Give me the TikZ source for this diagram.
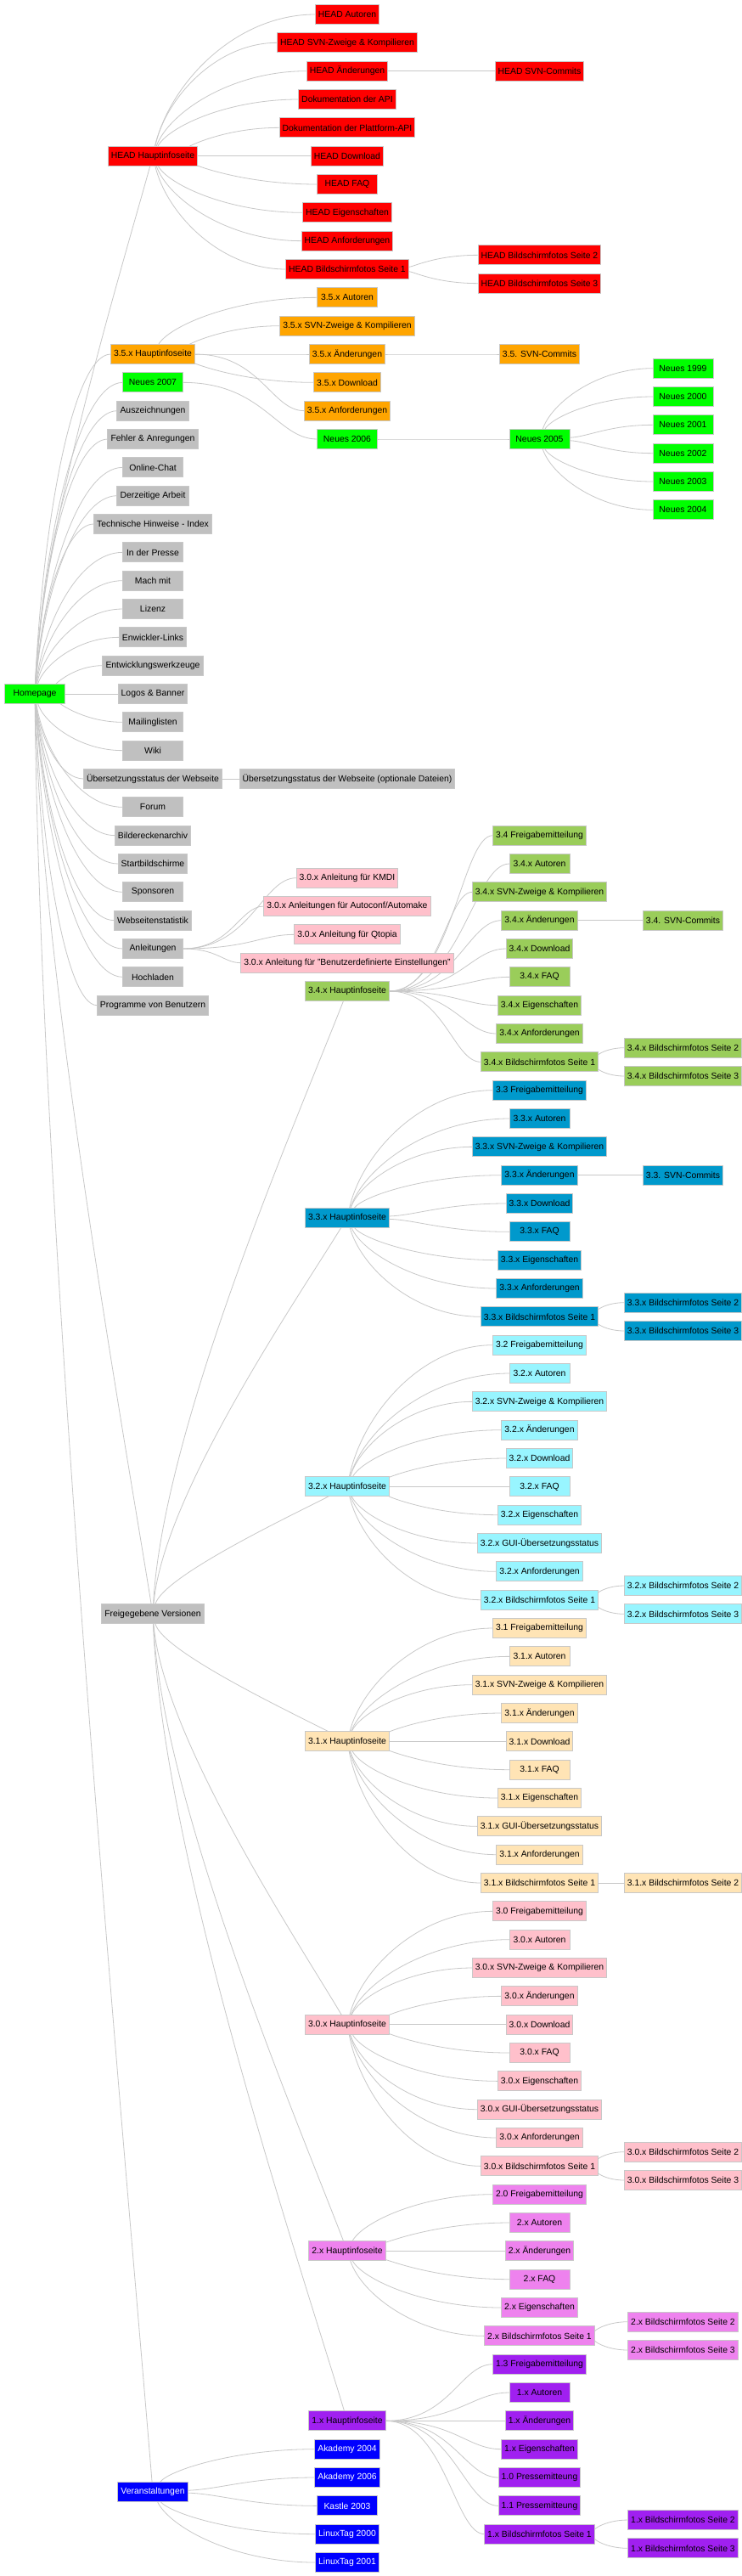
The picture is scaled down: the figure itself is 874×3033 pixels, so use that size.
\documentclass[tikz,border=0pt]{standalone}
\usepackage{fontspec}
\setmainfont{Liberation Sans}
\usetikzlibrary{calc,backgrounds}
\definecolor{colRed}{HTML}{FF0000}
\definecolor{colOrange}{HTML}{FFA500}
\definecolor{colLime}{HTML}{00FF00}
\definecolor{colGray}{HTML}{C0C0C0}
\definecolor{col34}{HTML}{9ACD5A}
\definecolor{col33}{HTML}{0099CC}
\definecolor{col32}{HTML}{98F5FF}
\definecolor{col31}{HTML}{FFE4B5}
\definecolor{col30}{HTML}{FFC0CB}
\definecolor{col2}{HTML}{EE82EE}
\definecolor{col1}{HTML}{A020F0}
\definecolor{colBlue}{HTML}{0000FF}
\definecolor{bordc}{HTML}{C8C8C8}
\definecolor{edgec}{HTML}{C8C8C8}
\newcommand\fsz{\fontsize{10.4}{12}\selectfont}
\tikzset{
 box/.style={draw=bordc,line width=1pt,minimum width=71pt,minimum height=23pt,inner xsep=3.6pt,inner ysep=0pt,outer sep=0pt,font=\fsz,text=black},
 lnkstyle/.style={draw=edgec,line width=0.8pt}
}
\newcommand\mkn[5]{\node[box,fill=#4] (#1) at (#2,{17+33.3333*(#3)}) {#5};}
\newcommand\lnk[2]{\draw[lnkstyle] let \p1=(#1.center),\p2=(#2.west),\p3=(#1.east),
 \n1={min(1,abs((\y2)-(\y1))/50)},
 \n2={(1-\n1)*((\x3)-(\x1)+0.45*((\x2)-(\x3)))+\n1*0.1*((\x2)-(\x1))},
 \n3={0.5*\n1*((\y2)-(\y1))},
 \n4={(1-\n1)*0.45*((\x2)-(\x3))+\n1*0.5*((\x2)-(\x1))}
 in (#1) .. controls ({\x1+(\n2)},{\y1+(\n3)}) and ({\x2-(\n4)},\y2) .. (#2);}
\newcommand\lnkS[2]{\draw[lnkstyle] let \p1=(#1.east),\p2=(#2.west) in (\p1) .. controls ({\x1+0.6*((\x2)-(\x1))},\y1) and ({\x2-0.3*((\x2)-(\x1))},\y2) .. (\p2);}
\newcommand\lnkL[2]{\draw[lnkstyle] let \p1=(#1.center),\p2=(#2.center) in (#1) .. controls ({\x1+0.05*((\x2)-(\x1))},{\y1+0.3*((\y2)-(\y1))}) and ({\x2-0.25*((\x2)-(\x1))},{\y2-0.2*((\y2)-(\y1))}) .. (#2);}
\begin{document}
\begin{tikzpicture}[x=1pt,y=-1pt]
\useasboundingbox (0,0) rectangle (874,3033);
% ---- column A
\mkn{home}{41}{24}{colLime}{Homepage}
% ---- column B
\mkn{headhp}{180}{5}{colRed}{HEAD Hauptinfoseite}
\mkn{hp35}{180}{12}{colOrange}{3.5.x Hauptinfoseite}
\mkn{n2007}{180}{13}{colLime}{Neues 2007}
\mkn{ausz}{180}{14}{colGray}{Auszeichnungen}
\mkn{fehler}{180}{15}{colGray}{Fehler \& Anregungen}
\mkn{chat}{180}{16}{colGray}{Online-Chat}
\mkn{arbeit}{180}{17}{colGray}{Derzeitige Arbeit}
\mkn{tech}{180}{18}{colGray}{Technische Hinweise - Index}
\mkn{presse}{180}{19}{colGray}{In der Presse}
\mkn{mach}{180}{20}{colGray}{Mach mit}
\mkn{lizenz}{180}{21}{colGray}{Lizenz}
\mkn{elinks}{180}{22}{colGray}{Enwickler-Links}
\mkn{ewerk}{180}{23}{colGray}{Entwicklungswerkzeuge}
\mkn{logos}{180}{24}{colGray}{Logos \& Banner}
\mkn{mail}{180}{25}{colGray}{Mailinglisten}
\mkn{wiki}{180}{26}{colGray}{Wiki}
\mkn{uebers}{180}{27}{colGray}{Übersetzungsstatus der Webseite}
\mkn{forum}{180}{28}{colGray}{Forum}
\mkn{bilder}{180}{29}{colGray}{Bildereckenarchiv}
\mkn{start}{180}{30}{colGray}{Startbildschirme}
\mkn{spons}{180}{31}{colGray}{Sponsoren}
\mkn{stat}{180}{32}{colGray}{Webseitenstatistik}
\mkn{anl}{180}{33}{colGray}{Anleitungen}
\mkn{hoch}{180}{34}{colGray}{Hochladen}
\mkn{prog}{180}{35}{colGray}{Programme von Benutzern}
\mkn{frei}{180}{56.5}{colGray}{Freigegebene Versionen}
\mkn{veran}{180}{87.5}{colBlue,text=white}{Veranstaltungen}
% ---- column C
\mkn{hA}{409}{0}{colRed}{HEAD Autoren}
\mkn{hSVN}{409}{1}{colRed}{HEAD SVN-Zweige \& Kompilieren}
\mkn{hAend}{409}{2}{colRed}{HEAD Änderungen}
\mkn{hAPI}{409}{3}{colRed}{Dokumentation der API}
\mkn{hPAPI}{409}{4}{colRed}{Dokumentation der Plattform-API}
\mkn{hDL}{409}{5}{colRed}{HEAD Download}
\mkn{hFAQ}{409}{6}{colRed}{HEAD FAQ}
\mkn{hEig}{409}{7}{colRed}{HEAD Eigenschaften}
\mkn{hAnf}{409}{8}{colRed}{HEAD Anforderungen}
\mkn{hB1}{409}{9}{colRed}{HEAD Bildschirmfotos Seite 1}
\mkn{a35}{409}{10}{colOrange}{3.5.x Autoren}
\mkn{s35}{409}{11}{colOrange}{3.5.x SVN-Zweige \& Kompilieren}
\mkn{ae35}{409}{12}{colOrange}{3.5.x Änderungen}
\mkn{dl35}{409}{13}{colOrange}{3.5.x Download}
\mkn{anf35}{409}{14}{colOrange}{3.5.x Anforderungen}
\mkn{n2006}{409}{15}{colLime}{Neues 2006}
\mkn{uebopt}{409}{27}{colGray}{Übersetzungsstatus der Webseite (optionale Dateien)}
\mkn{kmdi}{409}{30.5}{col30}{3.0.x Anleitung für KMDI}
\mkn{autoconf}{409}{31.5}{col30}{3.0.x Anleitungen für Autoconf/Automake}
\mkn{qtopia}{409}{32.5}{col30}{3.0.x Anleitung für Qtopia}
\mkn{benutzer}{409}{33.5}{col30}{3.0.x Anleitung für "Benutzerdefinierte Einstellungen"}
\mkn{hp34}{409}{34.5}{col34}{3.4.x Hauptinfoseite}
\mkn{hp33}{409}{42.5}{col33}{3.3.x Hauptinfoseite}
\mkn{hp32}{409}{52}{col32}{3.2.x Hauptinfoseite}
\mkn{hp31}{409}{61}{col31}{3.1.x Hauptinfoseite}
\mkn{hp30}{409}{71}{col30}{3.0.x Hauptinfoseite}
\mkn{hp2}{409}{79}{col2}{2.x Hauptinfoseite}
\mkn{hp1}{409}{85}{col1}{1.x Hauptinfoseite}
\mkn{ak04}{409}{86}{colBlue,text=white}{Akademy 2004}
\mkn{ak06}{409}{87}{colBlue,text=white}{Akademy 2006}
\mkn{kastle}{409}{88}{colBlue,text=white}{Kastle 2003}
\mkn{lt00}{409}{89}{colBlue,text=white}{LinuxTag 2000}
\mkn{lt01}{409}{90}{colBlue,text=white}{LinuxTag 2001}
% ---- column D
\mkn{hSVNc}{635.5}{2}{colRed}{HEAD SVN-Commits}
\mkn{hB2}{635.5}{8.5}{colRed}{HEAD Bildschirmfotos Seite 2}
\mkn{hB3}{635.5}{9.5}{colRed}{HEAD Bildschirmfotos Seite 3}
\mkn{c35}{635.5}{12}{colOrange}{3.5. SVN-Commits}
\mkn{n2005}{635.5}{15}{colLime}{Neues 2005}
\mkn{f34}{635.5}{29}{col34}{3.4 Freigabemitteilung}
\mkn{a34}{635.5}{30}{col34}{3.4.x Autoren}
\mkn{s34}{635.5}{31}{col34}{3.4.x SVN-Zweige \& Kompilieren}
\mkn{ae34}{635.5}{32}{col34}{3.4.x Änderungen}
\mkn{dl34}{635.5}{33}{col34}{3.4.x Download}
\mkn{faq34}{635.5}{34}{col34}{3.4.x FAQ}
\mkn{eig34}{635.5}{35}{col34}{3.4.x Eigenschaften}
\mkn{anf34}{635.5}{36}{col34}{3.4.x Anforderungen}
\mkn{b134}{635.5}{37}{col34}{3.4.x Bildschirmfotos Seite 1}
\mkn{f33}{635.5}{38}{col33}{3.3 Freigabemitteilung}
\mkn{a33}{635.5}{39}{col33}{3.3.x Autoren}
\mkn{s33}{635.5}{40}{col33}{3.3.x SVN-Zweige \& Kompilieren}
\mkn{ae33}{635.5}{41}{col33}{3.3.x Änderungen}
\mkn{dl33}{635.5}{42}{col33}{3.3.x Download}
\mkn{faq33}{635.5}{43}{col33}{3.3.x FAQ}
\mkn{eig33}{635.5}{44}{col33}{3.3.x Eigenschaften}
\mkn{anf33}{635.5}{45}{col33}{3.3.x Anforderungen}
\mkn{b133}{635.5}{46}{col33}{3.3.x Bildschirmfotos Seite 1}
\mkn{f32}{635.5}{47}{col32}{3.2 Freigabemitteilung}
\mkn{a32}{635.5}{48}{col32}{3.2.x Autoren}
\mkn{s32}{635.5}{49}{col32}{3.2.x SVN-Zweige \& Kompilieren}
\mkn{ae32}{635.5}{50}{col32}{3.2.x Änderungen}
\mkn{dl32}{635.5}{51}{col32}{3.2.x Download}
\mkn{faq32}{635.5}{52}{col32}{3.2.x FAQ}
\mkn{eig32}{635.5}{53}{col32}{3.2.x Eigenschaften}
\mkn{gui32}{635.5}{54}{col32}{3.2.x GUI-Übersetzungsstatus}
\mkn{anf32}{635.5}{55}{col32}{3.2.x Anforderungen}
\mkn{b132}{635.5}{56}{col32}{3.2.x Bildschirmfotos Seite 1}
\mkn{f31}{635.5}{57}{col31}{3.1 Freigabemitteilung}
\mkn{a31}{635.5}{58}{col31}{3.1.x Autoren}
\mkn{s31}{635.5}{59}{col31}{3.1.x SVN-Zweige \& Kompilieren}
\mkn{ae31}{635.5}{60}{col31}{3.1.x Änderungen}
\mkn{dl31}{635.5}{61}{col31}{3.1.x Download}
\mkn{faq31}{635.5}{62}{col31}{3.1.x FAQ}
\mkn{eig31}{635.5}{63}{col31}{3.1.x Eigenschaften}
\mkn{gui31}{635.5}{64}{col31}{3.1.x GUI-Übersetzungsstatus}
\mkn{anf31}{635.5}{65}{col31}{3.1.x Anforderungen}
\mkn{b131}{635.5}{66}{col31}{3.1.x Bildschirmfotos Seite 1}
\mkn{f30}{635.5}{67}{col30}{3.0 Freigabemitteilung}
\mkn{a30}{635.5}{68}{col30}{3.0.x Autoren}
\mkn{s30}{635.5}{69}{col30}{3.0.x SVN-Zweige \& Kompilieren}
\mkn{ae30}{635.5}{70}{col30}{3.0.x Änderungen}
\mkn{dl30}{635.5}{71}{col30}{3.0.x Download}
\mkn{faq30}{635.5}{72}{col30}{3.0.x FAQ}
\mkn{eig30}{635.5}{73}{col30}{3.0.x Eigenschaften}
\mkn{gui30}{635.5}{74}{col30}{3.0.x GUI-Übersetzungsstatus}
\mkn{anf30}{635.5}{75}{col30}{3.0.x Anforderungen}
\mkn{b130}{635.5}{76}{col30}{3.0.x Bildschirmfotos Seite 1}
\mkn{f2}{635.5}{77}{col2}{2.0 Freigabemitteilung}
\mkn{a2}{635.5}{78}{col2}{2.x Autoren}
\mkn{ae2}{635.5}{79}{col2}{2.x Änderungen}
\mkn{faq2}{635.5}{80}{col2}{2.x FAQ}
\mkn{eig2}{635.5}{81}{col2}{2.x Eigenschaften}
\mkn{b12}{635.5}{82}{col2}{2.x Bildschirmfotos Seite 1}
\mkn{f1}{635.5}{83}{col1}{1.3 Freigabemitteilung}
\mkn{a1}{635.5}{84}{col1}{1.x Autoren}
\mkn{ae1}{635.5}{85}{col1}{1.x Änderungen}
\mkn{eig1}{635.5}{86}{col1}{1.x Eigenschaften}
\mkn{pm10}{635.5}{87}{col1}{1.0 Pressemitteung}
\mkn{pm11}{635.5}{88}{col1}{1.1 Pressemitteung}
\mkn{b11}{635.5}{89}{col1}{1.x Bildschirmfotos Seite 1}
% ---- column E
\mkn{n1999}{804.5}{12.5}{colLime}{Neues 1999}
\mkn{n2000}{804.5}{13.5}{colLime}{Neues 2000}
\mkn{n2001}{804.5}{14.5}{colLime}{Neues 2001}
\mkn{n2002}{804.5}{15.5}{colLime}{Neues 2002}
\mkn{n2003}{804.5}{16.5}{colLime}{Neues 2003}
\mkn{n2004}{804.5}{17.5}{colLime}{Neues 2004}
\mkn{sc34}{804.5}{32}{col34}{3.4. SVN-Commits}
\mkn{b234}{804.5}{36.5}{col34}{3.4.x Bildschirmfotos Seite 2}
\mkn{b334}{804.5}{37.5}{col34}{3.4.x Bildschirmfotos Seite 3}
\mkn{sc33}{804.5}{41}{col33}{3.3. SVN-Commits}
\mkn{b233}{804.5}{45.5}{col33}{3.3.x Bildschirmfotos Seite 2}
\mkn{b333}{804.5}{46.5}{col33}{3.3.x Bildschirmfotos Seite 3}
\mkn{b232}{804.5}{55.5}{col32}{3.2.x Bildschirmfotos Seite 2}
\mkn{b332}{804.5}{56.5}{col32}{3.2.x Bildschirmfotos Seite 3}
\mkn{b231}{804.5}{66}{col31}{3.1.x Bildschirmfotos Seite 2}
\mkn{b230}{804.5}{75.5}{col30}{3.0.x Bildschirmfotos Seite 2}
\mkn{b330}{804.5}{76.5}{col30}{3.0.x Bildschirmfotos Seite 3}
\mkn{b22}{804.5}{81.5}{col2}{2.x Bildschirmfotos Seite 2}
\mkn{b32}{804.5}{82.5}{col2}{2.x Bildschirmfotos Seite 3}
\mkn{b21}{804.5}{88.5}{col1}{1.x Bildschirmfotos Seite 2}
\mkn{b31}{804.5}{89.5}{col1}{1.x Bildschirmfotos Seite 3}
% ---- connectors
\begin{pgfonlayer}{background}
\fill[white] (0,0) rectangle (874,3033);
\lnkL{home}{headhp}
\foreach \c in {hp35,n2007,ausz,fehler,chat,arbeit,tech,presse,mach,lizenz,elinks,ewerk,logos,mail,wiki,uebers,forum,bilder,start,spons,stat,anl,hoch,prog}{\lnk{home}{\c}}
\lnkL{home}{frei}
\lnkL{home}{veran}
\foreach \c in {hA,hSVN,hAend,hAPI,hPAPI,hDL,hFAQ,hEig,hAnf,hB1}{\lnk{headhp}{\c}}
\lnk{hAend}{hSVNc}
\lnk{hB1}{hB2}
\lnk{hB1}{hB3}
\foreach \c in {a35,s35,ae35,dl35}{\lnk{hp35}{\c}}
\lnkS{hp35}{anf35}
\lnk{ae35}{c35}
\lnkS{n2007}{n2006}
\lnk{n2006}{n2005}
\foreach \c in {n1999,n2000,n2001,n2002,n2003,n2004}{\lnk{n2005}{\c}}
\lnk{uebers}{uebopt}
\foreach \c in {kmdi,autoconf,qtopia,benutzer}{\lnkS{anl}{\c}}
\foreach \c in {hp34,hp33,hp32,hp31,hp30,hp2,hp1}{\lnkL{frei}{\c}}
\foreach \c in {f34,a34,s34,ae34,dl34,faq34,eig34,anf34,b134}{\lnkS{hp34}{\c}}
\lnk{ae34}{sc34}
\lnk{b134}{b234}
\lnk{b134}{b334}
\foreach \c in {f33,a33,s33,ae33,dl33,faq33,eig33,anf33,b133}{\lnk{hp33}{\c}}
\lnk{ae33}{sc33}
\lnk{b133}{b233}
\lnk{b133}{b333}
\foreach \c in {f32,a32,s32,ae32,dl32,faq32,eig32,gui32,anf32,b132}{\lnk{hp32}{\c}}
\lnk{b132}{b232}
\lnk{b132}{b332}
\foreach \c in {f31,a31,s31,ae31,dl31,faq31,eig31,gui31,anf31,b131}{\lnk{hp31}{\c}}
\lnk{b131}{b231}
\foreach \c in {f30,a30,s30,ae30,dl30,faq30,eig30,gui30,anf30,b130}{\lnk{hp30}{\c}}
\lnk{b130}{b230}
\lnk{b130}{b330}
\foreach \c in {f2,a2,ae2,faq2,eig2,b12}{\lnk{hp2}{\c}}
\lnk{b12}{b22}
\lnk{b12}{b32}
\foreach \c in {f1,a1,ae1,eig1,pm10,pm11,b11}{\lnkS{hp1}{\c}}
\lnk{b11}{b21}
\lnk{b11}{b31}
\foreach \c in {ak04,ak06,kastle,lt00,lt01}{\lnk{veran}{\c}}
\end{pgfonlayer}
\end{tikzpicture}
\end{document}
